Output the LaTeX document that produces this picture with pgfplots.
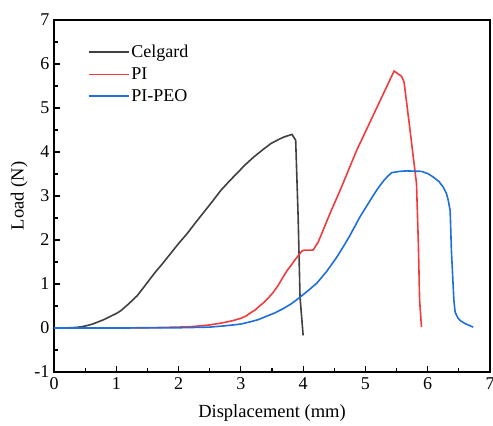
\documentclass[border=0pt]{standalone}
\usepackage{fontspec}
\setmainfont{Liberation Serif}
\usepackage{pgfplots}
\pgfplotsset{compat=1.18}
\definecolor{cgray}{RGB}{64,64,64}
\definecolor{cred}{RGB}{240,60,60}
\definecolor{cblue}{RGB}{30,110,220}
\begin{document}
\begin{tikzpicture}
\begin{axis}[
  scale only axis,
  width=436bp, height=352bp,
  xmin=0, xmax=7, ymin=-1, ymax=7,
  xtick={0,1,...,7}, ytick={-1,0,...,7},
  minor tick num=1,
  xtick pos=left, ytick pos=left,
  tick align=inside,
  major tick length=6bp, minor tick length=3.5bp,
  axis line style={line width=1.5bp},
  every tick/.style={line width=1.2bp, black},
  /pgf/number format/assume math mode=true,
  ticklabel style={font=\fontsize{18bp}{20bp}\selectfont},
  xticklabel style={yshift=-2bp},
  yticklabel style={xshift=-1bp},
  xlabel={Displacement (mm)}, ylabel={Load (N)},
  label style={font=\fontsize{18.5bp}{21bp}\selectfont},
  xlabel style={yshift=-8bp},
  ylabel style={yshift=0bp},
  legend style={at={(0.07,0.94)}, anchor=north west, draw=none, fill=none,
    font=\fontsize{18bp}{20bp}\selectfont, row sep=4.5bp,
    /tikz/every even column/.append style={column sep=4bp}},
  legend cell align=left,
  legend image code/.code={\draw[#1] (0bp,0bp) -- (40bp,0bp);},
]
\coordinate (sw) at (rel axis cs:0,0);
\coordinate (ne) at (rel axis cs:1,1);
\addplot[cgray, line width=1.6bp] coordinates {
(0,0) (0.2,0.003) (0.35,0.012) (0.45,0.03) (0.53,0.055) (0.62,0.09) (0.71,0.14) (0.8,0.19) (0.9,0.26) (1.0,0.33) (1.07,0.39) (1.2,0.55) (1.34,0.74) (1.47,0.98) (1.61,1.24) (1.74,1.46) (1.87,1.69) (2.0,1.92) (2.14,2.15) (2.27,2.39) (2.41,2.64) (2.55,2.89) (2.68,3.13) (2.81,3.33) (2.94,3.52) (3.07,3.71) (3.21,3.89) (3.35,4.05) (3.48,4.19) (3.6,4.28) (3.69,4.34) (3.82,4.40) (3.88,4.27) (3.92,2.5) (3.95,0.7) (4.0,-0.17)
};
\addlegendentry{Celgard}
\addplot[cred, line width=1.6bp] coordinates {
(0,0) (1,0.002) (1.5,0.006) (2,0.02) (2.25,0.035) (2.5,0.07) (2.68,0.11) (2.88,0.17) (3.0,0.22) (3.08,0.27) (3.15,0.34) (3.23,0.41) (3.3,0.5) (3.37,0.58) (3.44,0.68) (3.52,0.81) (3.6,0.97) (3.67,1.14) (3.74,1.3) (3.81,1.43) (3.87,1.55) (3.93,1.66) (3.98,1.75) (4.02,1.77) (4.16,1.77) (4.24,1.95) (4.3,2.15) (4.43,2.6) (4.6,3.15) (4.86,4.04) (5.0,4.46) (5.2,5.06) (5.46,5.84) (5.58,5.72) (5.62,5.59) (5.71,4.57) (5.82,3.28) (5.85,1.9) (5.87,0.63) (5.9,0.02)
};
\addlegendentry{PI}
\addplot[cblue, line width=1.6bp] coordinates {
(0,0) (1,0) (2,0.005) (2.5,0.02) (2.75,0.05) (3.0,0.09) (3.15,0.14) (3.28,0.19) (3.4,0.26) (3.54,0.34) (3.68,0.44) (3.82,0.56) (3.95,0.70) (4.08,0.85) (4.22,1.02) (4.38,1.29) (4.54,1.61) (4.65,1.86) (4.75,2.1) (4.83,2.31) (4.91,2.52) (4.98,2.68) (5.05,2.84) (5.12,3.0) (5.18,3.13) (5.24,3.25) (5.3,3.36) (5.36,3.45) (5.42,3.53) (5.55,3.56) (5.66,3.57) (5.9,3.56) (6.0,3.51) (6.09,3.43) (6.18,3.33) (6.25,3.2) (6.3,3.06) (6.33,2.9) (6.36,2.67) (6.38,1.77) (6.42,0.63) (6.44,0.36) (6.48,0.24) (6.52,0.17) (6.6,0.1) (6.73,0.02)
};
\addlegendentry{PI-PEO}
\end{axis}
\pgfresetboundingbox
\path[use as bounding box] ([shift={(-54bp,-54bp)}]sw) rectangle ([shift={(3bp,20bp)}]ne);
\end{tikzpicture}
\end{document}
